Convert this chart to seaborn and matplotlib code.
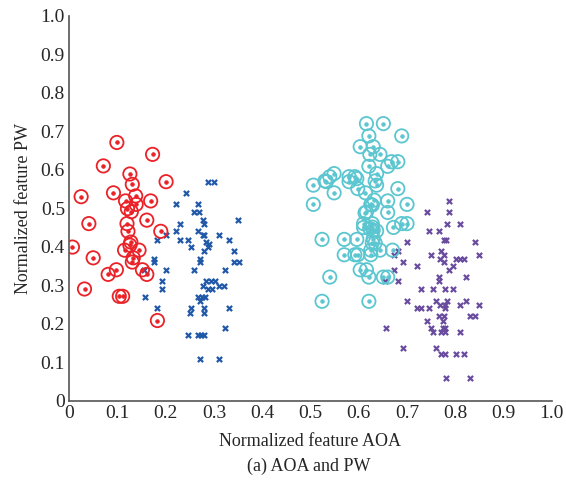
import numpy as np
import pandas as pd
import matplotlib
matplotlib.use("Agg")
import matplotlib.pyplot as plt
from matplotlib.ticker import FuncFormatter
import seaborn as sns

# Cluster 1 (red, circled dots)
red_aoa = [0.099, 0.173, 0.071, 0.126, 0.131, 0.201, 0.025, 0.092, 0.138, 0.117,
           0.169, 0.139, 0.121, 0.129, 0.161, 0.041, 0.120, 0.122, 0.190, 0.007,
           0.128, 0.126, 0.115, 0.145, 0.050, 0.133, 0.131, 0.098, 0.081, 0.152,
           0.161, 0.032, 0.104, 0.111, 0.183]
red_pw = [0.671, 0.640, 0.610, 0.589, 0.562, 0.569, 0.530, 0.540, 0.532, 0.519,
          0.519, 0.510, 0.499, 0.491, 0.469, 0.460, 0.460, 0.440, 0.440, 0.399,
          0.412, 0.404, 0.391, 0.391, 0.371, 0.371, 0.360, 0.340, 0.328, 0.340,
          0.328, 0.290, 0.271, 0.271, 0.208]

# Cluster 2 (blue, crosses)
blue_aoa = [0.287, 0.301, 0.242, 0.221, 0.268, 0.259, 0.270, 0.230, 0.277, 0.280,
            0.350, 0.221, 0.268, 0.277, 0.280, 0.311, 0.182, 0.201, 0.230, 0.247,
            0.284, 0.289, 0.287, 0.332, 0.253, 0.280, 0.341, 0.175, 0.175, 0.272,
            0.272, 0.341, 0.351, 0.201, 0.259, 0.322, 0.156, 0.192, 0.284, 0.294,
            0.303, 0.277, 0.311, 0.321, 0.192, 0.287, 0.296, 0.157, 0.268, 0.275,
            0.282, 0.272, 0.182, 0.253, 0.251, 0.279, 0.280, 0.332, 0.322, 0.247,
            0.268, 0.273, 0.279, 0.272, 0.311]
blue_pw = [0.569, 0.569, 0.540, 0.510, 0.510, 0.489, 0.489, 0.460, 0.469, 0.460,
           0.469, 0.440, 0.440, 0.431, 0.431, 0.431, 0.418, 0.431, 0.418, 0.418,
           0.412, 0.406, 0.398, 0.418, 0.398, 0.389, 0.389, 0.369, 0.360, 0.369,
           0.360, 0.360, 0.360, 0.340, 0.340, 0.340, 0.340, 0.311, 0.311, 0.311,
           0.311, 0.297, 0.299, 0.299, 0.290, 0.290, 0.290, 0.269, 0.269, 0.269,
           0.269, 0.259, 0.240, 0.240, 0.227, 0.240, 0.227, 0.240, 0.188, 0.170,
           0.170, 0.170, 0.170, 0.109, 0.109]

# Cluster 3 (cyan, circled dots)
cyan_aoa = [0.616, 0.651, 0.621, 0.689, 0.603, 0.630, 0.623, 0.644, 0.668, 0.681,
            0.660, 0.621, 0.637, 0.549, 0.540, 0.530, 0.533, 0.580, 0.592, 0.596,
            0.580, 0.634, 0.637, 0.506, 0.598, 0.614, 0.681, 0.549, 0.506, 0.632,
            0.625, 0.628, 0.660, 0.700, 0.616, 0.613, 0.660, 0.610, 0.628, 0.610,
            0.623, 0.630, 0.637, 0.628, 0.672, 0.689, 0.700, 0.524, 0.570, 0.596,
            0.630, 0.634, 0.628, 0.644, 0.625, 0.670, 0.570, 0.592, 0.598, 0.625,
            0.603, 0.616, 0.540, 0.621, 0.651, 0.660, 0.524, 0.621]
cyan_pw = [0.720, 0.720, 0.688, 0.688, 0.660, 0.660, 0.640, 0.640, 0.621, 0.621,
           0.609, 0.609, 0.590, 0.590, 0.582, 0.571, 0.569, 0.582, 0.582, 0.577,
           0.569, 0.571, 0.560, 0.560, 0.551, 0.540, 0.551, 0.540, 0.510, 0.521,
           0.510, 0.508, 0.519, 0.510, 0.490, 0.488, 0.489, 0.460, 0.460, 0.450,
           0.447, 0.443, 0.441, 0.451, 0.450, 0.460, 0.460, 0.419, 0.419, 0.419,
           0.421, 0.410, 0.410, 0.391, 0.391, 0.391, 0.379, 0.379, 0.379, 0.379,
           0.340, 0.340, 0.321, 0.321, 0.321, 0.321, 0.258, 0.258]

# Cluster 4 (purple, crosses)
purple_aoa = [0.788, 0.741, 0.788, 0.783, 0.810, 0.746, 0.767, 0.776, 0.781, 0.700,
              0.840, 0.681, 0.674, 0.771, 0.750, 0.776, 0.769, 0.776, 0.801, 0.810,
              0.819, 0.850, 0.691, 0.720, 0.795, 0.788, 0.674, 0.767, 0.767, 0.822,
              0.681, 0.654, 0.729, 0.753, 0.778, 0.795, 0.700, 0.760, 0.769, 0.783,
              0.779, 0.779, 0.822, 0.810, 0.850, 0.720, 0.729, 0.746, 0.767, 0.776,
              0.831, 0.840, 0.741, 0.774, 0.656, 0.750, 0.753, 0.774, 0.778, 0.771,
              0.779, 0.810, 0.691, 0.760, 0.771, 0.779, 0.801, 0.819, 0.781, 0.831]
purple_pw = [0.518, 0.489, 0.489, 0.460, 0.460, 0.440, 0.440, 0.418, 0.418, 0.411,
             0.411, 0.389, 0.378, 0.389, 0.378, 0.378, 0.369, 0.360, 0.369, 0.369,
             0.369, 0.378, 0.360, 0.349, 0.349, 0.340, 0.340, 0.320, 0.311, 0.320,
             0.311, 0.310, 0.290, 0.290, 0.290, 0.290, 0.258, 0.258, 0.249, 0.258,
             0.249, 0.240, 0.258, 0.249, 0.249, 0.240, 0.240, 0.240, 0.219, 0.219,
             0.219, 0.219, 0.208, 0.208, 0.188, 0.188, 0.178, 0.188, 0.188, 0.178,
             0.178, 0.178, 0.137, 0.137, 0.120, 0.120, 0.120, 0.120, 0.058, 0.058]

ticks = [0, 0.1, 0.2, 0.3, 0.4, 0.5, 0.6, 0.7, 0.8, 0.9, 1.0]

RED = "#ea2228"
BLUE = "#2158a8"
CYAN = "#5cc6d0"
PURPLE = "#6a4c9f"

sns.set_style("white")
plt.rcParams["font.family"] = ["Liberation Serif", "DejaVu Serif"]

fig = plt.figure(figsize=(5.66, 4.82), dpi=100)
ax = fig.add_axes([0.122, 0.169, 0.853, 0.798])


def ringed(x, y, color):
    df = pd.DataFrame({"x": x, "y": y})
    sns.scatterplot(data=df, x="x", y="y", ax=ax, marker="o", s=92,
                    facecolors="none", edgecolors=color, linewidth=1.3,
                    legend=False, zorder=3)
    sns.scatterplot(data=df, x="x", y="y", ax=ax, marker="o", s=7,
                    color=color, edgecolor=color, linewidth=0.5,
                    legend=False, zorder=3)


def crossed(x, y, color):
    df = pd.DataFrame({"x": x, "y": y})
    sns.scatterplot(data=df, x="x", y="y", ax=ax, marker="x", s=14,
                    color=color, linewidth=1.6, legend=False, zorder=2)


crossed(blue_aoa, blue_pw, BLUE)
crossed(purple_aoa, purple_pw, PURPLE)
ringed(red_aoa, red_pw, RED)
ringed(cyan_aoa, cyan_pw, CYAN)

ax.set_xlim(0, 1.0)
ax.set_ylim(0, 1.0)
ax.set_xticks(ticks)
ax.set_yticks(ticks)
fmt = FuncFormatter(lambda v, p: "0" if abs(v) < 1e-9 else f"{v:.1f}")
ax.xaxis.set_major_formatter(fmt)
ax.yaxis.set_major_formatter(fmt)
ax.tick_params(axis="both", direction="in", length=4, width=1,
               color="#555555", labelsize=14, pad=3)

for side in ("top", "right"):
    ax.spines[side].set_visible(False)
for side in ("left", "bottom"):
    ax.spines[side].set_color("#555555")
    ax.spines[side].set_linewidth(1.2)

ax.set_xlabel("Normalized feature AOA", fontsize=13, labelpad=8)
ax.set_ylabel("Normalized feature PW", fontsize=13, labelpad=6)
fig.text(0.545, 0.033, "(a) AOA and PW", ha="center", va="center", fontsize=13)

fig.savefig("out.png", dpi=100)
